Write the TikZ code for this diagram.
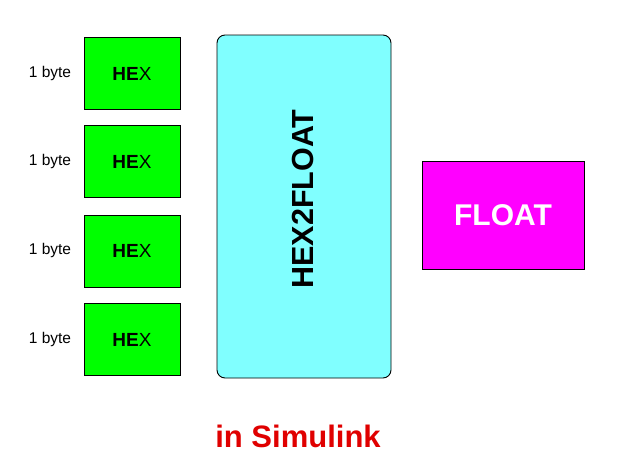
\documentclass[tikz,border=0pt]{standalone}
\usepackage{fontspec}
\setmainfont{Liberation Sans}
\definecolor{hexgreen}{HTML}{00FF00}
\definecolor{cyanbox}{HTML}{80FFFF}
\definecolor{magbox}{HTML}{FF00FF}
\definecolor{simred}{HTML}{E00000}
\begin{document}
\begin{tikzpicture}[x=1pt,y=-1pt,
  hexbox/.style={draw=black, line width=0.9pt, fill=hexgreen, minimum width=96pt, minimum height=72pt, inner sep=0pt, font=\fontsize{19}{22}\selectfont},
  bytelabel/.style={font=\fontsize{15.5}{18}\selectfont, inner sep=0pt},
  bigbox/.style={draw=black, line width=0.9pt, fill=cyanbox, rounded corners=8pt, minimum width=174pt, minimum height=343pt, inner sep=0pt},
  floatbox/.style={draw=black, line width=0.9pt, fill=magbox, minimum width=162pt, minimum height=108pt, inner sep=0pt, text=white, font=\bfseries\fontsize{30}{34}\selectfont}
]
\useasboundingbox (0,0) rectangle (623,466);
\fill[white] (0,0) rectangle (623,466);
\node[hexbox] (h1) at (132,73.5) {\textbf{HE}X};
\node[hexbox] (h2) at (132,161.5) {\textbf{HE}X};
\node[hexbox] (h3) at (132,251) {\textbf{HE}X};
\node[hexbox] (h4) at (132,339.5) {\textbf{HE}X};
\node[bytelabel] (b1) at (50,73) {1 byte};
\node[bytelabel] (b2) at (50,161) {1 byte};
\node[bytelabel] (b3) at (50,250) {1 byte};
\node[bytelabel] (b4) at (50,339) {1 byte};
\node[bigbox] (conv) at (304,206.5) {};
\node[rotate=90, font=\bfseries\fontsize{30.5}{34}\selectfont, inner sep=0pt] (convlbl) at (303,199) {HEX2FLOAT};
\node[floatbox] (fl) at (503,215) {FLOAT};
\node[text=simred, font=\bfseries\fontsize{31}{36}\selectfont, inner sep=0pt] (sim) at (298,436) {in Simulink};
\end{tikzpicture}
\end{document}
